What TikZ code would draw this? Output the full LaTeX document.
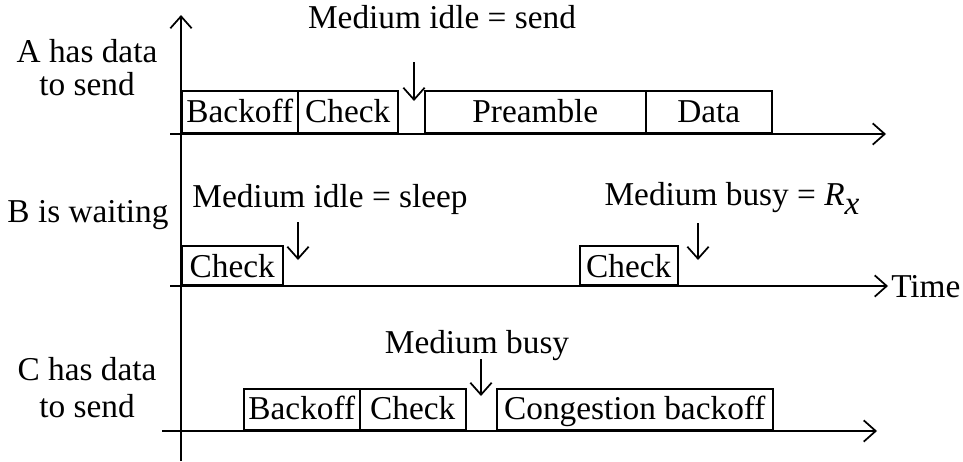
\documentclass[tikz,border=0pt]{standalone}
\usepackage{fontspec}
\setmainfont{Liberation Serif}
\usetikzlibrary{arrows.meta}
\tikzset{
  ln/.style={line width=1.3pt, black},
  ax/.style={ln, -{Straight Barb[length=9pt,width=16pt,line width=1.3pt]}},
  lbl/.style={font=\fontsize{25}{31}\selectfont, inner sep=0pt, anchor=base},
  box/.style={draw, line width=1.2pt, inner sep=0pt, anchor=south west,
     font=\fontsize{25}{31}\selectfont, text height=#1},
}
\begin{document}
\begin{tikzpicture}[x=0.75pt,y=-0.75pt]
\useasboundingbox (0,0) rectangle (963,461);
% axes coordinates
\coordinate (vbot) at (181,461);
\coordinate (vtop) at (181,15);
\coordinate (as) at (170,134); \coordinate (ae) at (886,134);
\coordinate (bs) at (170,286); \coordinate (be) at (888,286);
\coordinate (cs) at (162,431); \coordinate (ce) at (877,431);
\draw[ax] (vbot) -- (vtop);
\draw[ax] (as) -- (ae);
\draw[ax] (bs) -- (be);
\draw[ax] (cs) -- (ce);
\node[lbl, anchor=west] (time) at (891,287) {Time};
% row labels
\node[lbl] (a1) at (87,62) {A has data};
\node[lbl] (a2) at (87,95) {to send};
\node[lbl] (b1) at (88,222) {B is waiting};
\node[lbl] (c1) at (87,380) {C has data};
\node[lbl] (c2) at (87,417) {to send};
% A row
\node[box=23.25pt, text depth=8.25pt, minimum width=116*0.75pt] (abk) at (181,134) {Backoff};
\node[box=23.25pt, text depth=8.25pt, minimum width=100*0.75pt] (ach) at (297,134) {Check};
\node[box=23.25pt, text depth=8.25pt, minimum width=221*0.75pt] (apr) at (424,134) {Preamble};
\node[box=23.25pt, text depth=8.25pt, minimum width=126*0.75pt] (ada) at (645,134) {Data};
\node[lbl] (ma) at (442,28) {Medium idle = send};
\coordinate (ma1) at (414,62); \coordinate (ma2) at (414,101);
\draw[ax] (ma1) -- (ma2);
% B row
\node[box=23.25pt, text depth=6pt, minimum width=101*0.75pt] (bch1) at (181,286) {Check};
\node[box=23.25pt, text depth=6pt, minimum width=98*0.75pt] (bch2) at (579,286) {Check};
\node[lbl] (mb1) at (330,207) {Medium idle = sleep};
\node[lbl] (mb2) at (732,205) {Medium busy = \textit{R}\raisebox{-0.28em}{\textit{x}}};
\coordinate (mb1a) at (298,222); \coordinate (mb1b) at (298,260);
\coordinate (mb2a) at (698,223); \coordinate (mb2b) at (698,260);
\draw[ax] (mb1a) -- (mb1b);
\draw[ax] (mb2a) -- (mb2b);
% C row
\node[box=22.5pt, text depth=8.25pt, minimum width=116*0.75pt] (cbk) at (243,431) {Backoff};
\node[box=22.5pt, text depth=8.25pt, minimum width=106*0.75pt] (cch) at (359,431) {Check};
\node[box=22.5pt, text depth=8.25pt, minimum width=276*0.75pt] (ccb) at (496,431) {Congestion backoff};
\node[lbl] (mc) at (477,353) {Medium busy};
\coordinate (mc1) at (481,359); \coordinate (mc2) at (481,396);
\draw[ax] (mc1) -- (mc2);
\end{tikzpicture}
\end{document}
